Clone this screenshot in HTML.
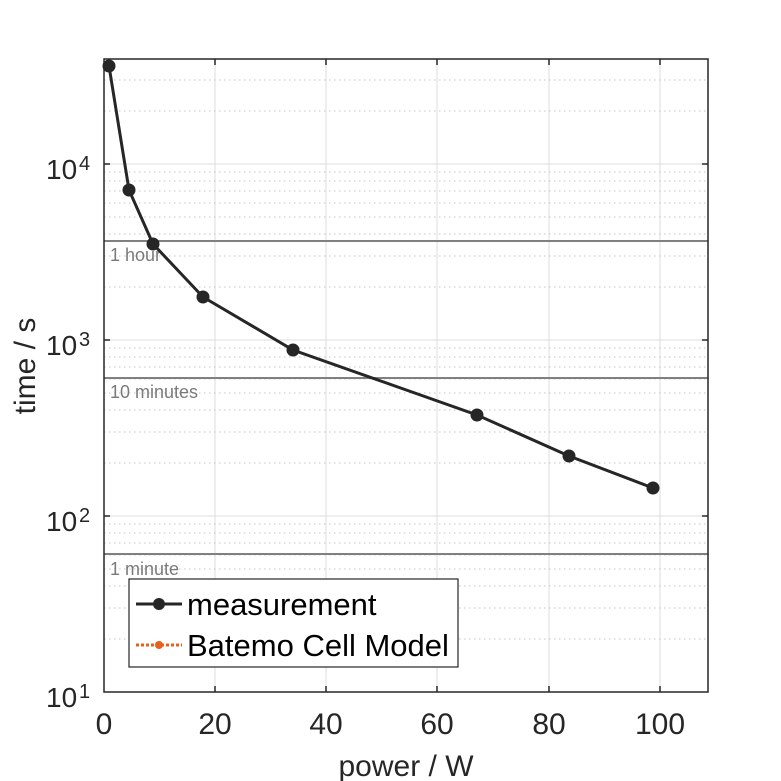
<!DOCTYPE html>
<html><head><meta charset="utf-8"><style>body{margin:0;background:#fff}svg{display:block}</style></head>
<body>
<svg width="781" height="781" viewBox="0 0 781 781" xmlns="http://www.w3.org/2000/svg" font-family="Liberation Sans, sans-serif">
<rect width="781" height="781" fill="#fff"/>
<g stroke="#dedede" stroke-width="1">
<line x1="215" y1="59" x2="215" y2="692"/><line x1="326" y1="59" x2="326" y2="692"/><line x1="437" y1="59" x2="437" y2="692"/><line x1="549" y1="59" x2="549" y2="692"/><line x1="660" y1="59" x2="660" y2="692"/>
<line x1="104" y1="164" x2="708" y2="164"/><line x1="104" y1="340" x2="708" y2="340"/><line x1="104" y1="516" x2="708" y2="516"/>
</g>
<g stroke="#c4c4c4" stroke-width="1" stroke-dasharray="1.5,3.5">
<line x1="104" y1="639" x2="708" y2="639"/><line x1="104" y1="608" x2="708" y2="608"/><line x1="104" y1="586" x2="708" y2="586"/><line x1="104" y1="569" x2="708" y2="569"/><line x1="104" y1="555" x2="708" y2="555"/><line x1="104" y1="543" x2="708" y2="543"/><line x1="104" y1="533" x2="708" y2="533"/><line x1="104" y1="524" x2="708" y2="524"/>
<line x1="104" y1="463" x2="708" y2="463"/><line x1="104" y1="432" x2="708" y2="432"/><line x1="104" y1="410" x2="708" y2="410"/><line x1="104" y1="393" x2="708" y2="393"/><line x1="104" y1="379" x2="708" y2="379"/><line x1="104" y1="367" x2="708" y2="367"/><line x1="104" y1="357" x2="708" y2="357"/><line x1="104" y1="348" x2="708" y2="348"/>
<line x1="104" y1="287" x2="708" y2="287"/><line x1="104" y1="256" x2="708" y2="256"/><line x1="104" y1="234" x2="708" y2="234"/><line x1="104" y1="217" x2="708" y2="217"/><line x1="104" y1="203" x2="708" y2="203"/><line x1="104" y1="191" x2="708" y2="191"/><line x1="104" y1="181" x2="708" y2="181"/><line x1="104" y1="172" x2="708" y2="172"/>
<line x1="104" y1="111" x2="708" y2="111"/><line x1="104" y1="80" x2="708" y2="80"/>
</g>
<g stroke="#808080" stroke-width="2">
<line x1="104" y1="241" x2="708" y2="241"/><line x1="104" y1="378" x2="708" y2="378"/><line x1="104" y1="554" x2="708" y2="554"/>
</g>
<g fill="#7a7a7a" font-size="18">
<text x="110" y="261">1 hour</text><text x="110" y="398">10 minutes</text><text x="110" y="575">1 minute</text>
</g>
<polyline fill="none" stroke="#262626" stroke-width="3" points="109,66 129,190 153,244 203,297 293,350 477,415 569,456 653,488"/>
<g fill="#262626">
<circle cx="109" cy="66" r="6.5"/><circle cx="129" cy="190" r="6.5"/><circle cx="153" cy="244" r="6.5"/><circle cx="203" cy="297" r="6.5"/><circle cx="293" cy="350" r="6.5"/><circle cx="477" cy="415" r="6.5"/><circle cx="569" cy="456" r="6.5"/><circle cx="653" cy="488" r="6.5"/>
</g>
<rect x="104" y="59" width="604" height="633" fill="none" stroke="#262626" stroke-width="1.5"/>
<g stroke="#262626" stroke-width="1.5">
<line x1="215" y1="692" x2="215" y2="686"/><line x1="326" y1="692" x2="326" y2="686"/><line x1="437" y1="692" x2="437" y2="686"/><line x1="549" y1="692" x2="549" y2="686"/><line x1="660" y1="692" x2="660" y2="686"/>
<line x1="215" y1="59" x2="215" y2="65"/><line x1="326" y1="59" x2="326" y2="65"/><line x1="437" y1="59" x2="437" y2="65"/><line x1="549" y1="59" x2="549" y2="65"/><line x1="660" y1="59" x2="660" y2="65"/>
<line x1="104" y1="164" x2="110" y2="164"/><line x1="104" y1="340" x2="110" y2="340"/><line x1="104" y1="516" x2="110" y2="516"/>
<line x1="708" y1="164" x2="702" y2="164"/><line x1="708" y1="340" x2="702" y2="340"/><line x1="708" y1="516" x2="702" y2="516"/>
</g>
<g fill="#262626" font-size="30" text-anchor="middle">
<text x="104" y="734">0</text><text x="215" y="734">20</text><text x="326" y="734">40</text><text x="437" y="734">60</text><text x="549" y="734">80</text><text x="660" y="734">100</text>
</g>
<g fill="#262626" font-size="28">
<text x="46" y="179">10</text><text x="79" y="170" font-size="20">4</text>
<text x="46" y="355">10</text><text x="79" y="346" font-size="20">3</text>
<text x="46" y="531">10</text><text x="79" y="522" font-size="20">2</text>
<text x="46" y="707">10</text><text x="79" y="698" font-size="20">1</text>
</g>
<text x="406" y="776" fill="#262626" font-size="30" text-anchor="middle">power / W</text>
<text transform="translate(35,366) rotate(-90)" fill="#262626" font-size="30" text-anchor="middle">time / s</text>
<rect x="129" y="579" width="329" height="88" fill="#fff" stroke="#262626" stroke-width="1.2"/>
<line x1="136" y1="604" x2="182" y2="604" stroke="#262626" stroke-width="3"/>
<circle cx="159" cy="604" r="6" fill="#262626"/>
<line x1="136" y1="645" x2="182" y2="645" stroke="#e8601c" stroke-width="3" stroke-dasharray="3,2"/>
<circle cx="159" cy="645" r="4" fill="#e8601c"/>
<g fill="#000" font-size="31"><text x="187" y="615">measurement</text><text x="187" y="656">Batemo Cell Model</text></g>
</svg>
</body></html>
